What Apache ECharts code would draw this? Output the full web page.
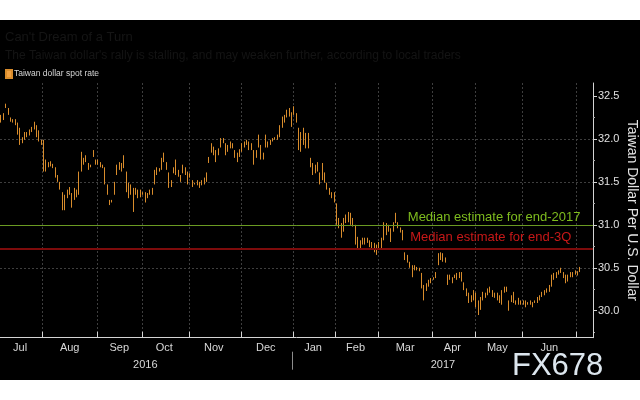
<!DOCTYPE html>
<html>
<head>
<meta charset="utf-8">
<script src="https://cdn.jsdelivr.net/npm/echarts@6/dist/echarts.min.js"></script>
<style>
  html, body { margin: 0; padding: 0; background: #ffffff; width: 640px; height: 400px; overflow: hidden; }
  #chart { position: absolute; left: 0; top: 20px; width: 640px; height: 360px; background: #000000; }
</style>
</head>
<body>
<div id="chart"></div>
<script>
// ---- data ----
const seriesName = 'Taiwan dollar spot rate';
const monthNames = ['Jul','Aug','Sep','Oct','Nov','Dec','Jan','Feb','Mar','Apr','May','Jun','Jul'];
const monthDays  = [18, 23, 19, 20, 22, 22, 18, 18, 23, 18, 20, 23, 2];
const yearNames = ['2016', '2017'];
const yTicks = [30.0, 30.5, 31.0, 31.5, 32.0, 32.5];
const medianEnd2017 = 31.0;
const medianEnd3Q = 30.72;
const medianLabels = ['Median estimate for end-2017', 'Median estimate for end-3Q'];

// daily low / high (trading days)
const lows = [
 32.19,32.22,32.36,32.28,32.20,32.19,32.16,32.05,31.93,31.95,31.99,32.02,32.04,32.08,32.11,32.02,31.97,31.93,
 31.62,31.62,31.67,31.68,31.66,31.55,31.50,31.41,31.17,31.17,31.31,31.35,31.20,31.29,31.32,31.35,31.62,31.70,31.73,31.64,31.67,31.79,31.70,
 31.70,31.67,31.66,31.47,31.35,31.23,31.26,31.35,31.58,31.64,31.62,31.66,31.38,31.31,31.35,31.15,31.35,31.31,31.32,
 31.35,31.26,31.31,31.35,31.35,31.47,31.58,31.62,31.64,31.73,31.64,31.43,31.44,31.60,31.58,31.56,31.50,31.60,31.58,31.47,
 31.55,31.44,31.47,31.46,31.43,31.46,31.47,31.50,31.72,31.84,31.81,31.73,31.81,31.90,31.95,31.81,31.85,31.89,31.89,31.78,31.73,31.79,
 31.85,31.90,31.93,31.87,31.87,31.70,31.78,31.90,31.76,31.76,31.90,31.90,31.93,31.97,31.99,31.99,32.02,32.13,32.19,32.25,32.26,32.14,
 32.28,32.19,31.87,31.85,31.93,31.89,31.89,31.67,31.58,31.60,31.62,31.47,31.52,31.49,31.41,31.35,31.31,31.26,
 31.00,30.96,30.85,30.92,31.02,31.03,31.00,30.98,30.77,30.71,30.73,30.77,30.77,30.79,30.74,30.71,30.68,30.65,
 30.71,30.73,30.82,30.88,30.92,30.80,30.92,31.02,30.96,30.91,30.82,30.59,30.56,30.50,30.39,30.47,30.47,30.46,30.26,30.12,30.23,30.28,30.32,
 30.36,30.38,30.53,30.59,30.57,30.56,30.30,30.36,30.32,30.38,30.36,30.38,30.34,30.24,30.17,30.09,30.10,30.12,
 30.04,29.95,30.01,30.12,30.15,30.18,30.21,30.16,30.15,30.12,30.09,30.07,30.21,30.22,30.00,30.10,30.09,30.07,30.07,30.07,
 30.07,30.04,30.07,30.07,30.04,30.09,30.09,30.12,30.16,30.18,30.21,30.22,30.28,30.36,30.38,30.42,30.44,30.38,30.32,30.34,30.39,30.39,30.42,
 30.41,30.45
];
const highs = [
 32.28,32.30,32.41,32.36,32.25,32.23,32.23,32.19,32.13,32.02,32.08,32.08,32.11,32.14,32.20,32.16,32.10,31.99,
 31.99,31.76,31.73,31.74,31.71,31.67,31.58,31.50,31.38,31.35,31.41,31.44,31.37,31.43,31.41,31.62,31.85,31.78,31.81,31.72,31.70,31.87,31.76,
 31.76,31.73,31.70,31.67,31.47,31.29,31.29,31.50,31.70,31.73,31.72,31.81,31.62,31.49,31.47,31.43,31.43,31.41,31.41,
 31.38,31.38,31.37,31.41,31.43,31.64,31.67,31.66,31.78,31.84,31.73,31.61,31.52,31.67,31.76,31.64,31.58,31.70,31.67,31.62,
 31.60,31.52,31.49,31.52,31.50,31.52,31.55,31.61,31.79,31.95,31.91,31.87,31.89,32.01,32.01,31.95,31.93,31.97,31.95,31.87,31.84,31.88,
 31.95,31.97,31.99,31.97,31.95,31.87,31.87,32.05,31.93,31.84,32.05,31.97,31.99,32.01,32.02,32.05,32.16,32.26,32.28,32.34,32.36,32.31,
 32.38,32.30,32.13,32.08,32.13,32.07,32.07,31.78,31.72,31.70,31.73,31.61,31.72,31.61,31.49,31.43,31.38,31.38,
 31.25,31.08,31.02,31.08,31.12,31.15,31.14,31.08,31.00,30.86,30.82,30.85,30.85,30.85,30.82,30.80,30.79,30.77,
 30.80,30.85,31.03,31.02,31.00,30.96,31.03,31.14,31.03,30.97,30.94,30.68,30.65,30.57,30.53,30.53,30.51,30.50,30.44,30.30,30.32,30.36,30.38,
 30.39,30.45,30.67,30.68,30.67,30.62,30.42,30.42,30.39,30.42,30.44,30.45,30.45,30.33,30.26,30.21,30.18,30.24,
 30.21,30.12,30.16,30.22,30.21,30.26,30.28,30.24,30.21,30.21,30.18,30.24,30.28,30.28,30.12,30.18,30.22,30.12,30.15,30.12,
 30.12,30.12,30.10,30.12,30.10,30.12,30.16,30.18,30.22,30.24,30.26,30.30,30.42,30.44,30.45,30.47,30.50,30.45,30.42,30.42,30.45,30.45,30.47,
 30.46,30.51
];
const padDays = 5;

// ---- build categories ----
const cats = [];
const monthStart = [];
const monthLabelIdx = {};
monthNames.forEach(function (m, k) {
  monthStart.push(cats.length);
  if (k < 12) monthLabelIdx[cats.length + Math.floor((monthDays[k] - 1) / 2)] = true;
  for (let d = 0; d < monthDays[k]; d++) cats.push(m);
});
for (let p = 0; p < padDays; p++) cats.push('');
const janIdx = monthStart[6];
const yearLabelIdx = {};
yearLabelIdx[Math.floor((janIdx - 1) / 2)] = yearNames[0];
yearLabelIdx[Math.floor((janIdx + cats.length - 1) / 2)] = yearNames[1];
const startSet = {};
monthStart.forEach(function (s) { if (s > 0) startSet[s] = true; });

const ohlc = lows.map(function (l, i) { return [l, highs[i], l, highs[i]]; });

const FONT = 'Liberation Sans';
const barColor = '#d88c2c';

const chart = echarts.init(document.getElementById('chart'), null, { renderer: 'canvas' });
chart.setOption({
  backgroundColor: '#000000',
  animation: false,
  textStyle: { fontFamily: FONT },
  title: {
    left: 0, top: 6,
    text: 'Can\'t Dream of a Turn',
    subtext: 'The Taiwan dollar\'s rally is stalling, and may weaken further, according to local traders',
    itemGap: 6,
    textStyle: { color: '#151515', fontSize: 13, fontWeight: 'normal', fontFamily: FONT },
    subtextStyle: { color: '#141414', fontSize: 12, fontFamily: FONT }
  },
  legend: {
    left: 0, top: 44,
    itemWidth: 6, itemHeight: 8, itemGap: 8,
    icon: 'rect',
    textStyle: { color: '#d6d6d6', fontSize: 8.5, fontFamily: FONT, padding: [0, 0, 0, -3] },
    data: [{ name: seriesName, itemStyle: { color: '#f0a040' } }]
  },
  grid: { left: 0, right: 47, top: 63, bottom: 42.3, containLabel: false, outerBoundsMode: 'none' },
  xAxis: [{
    type: 'category',
    data: cats,
    boundaryGap: true,
    axisLine: { show: true, lineStyle: { color: '#d4d4d4', width: 1 } },
    axisTick: { show: true, inside: true, length: 6, interval: function (i) { return !!startSet[i]; }, lineStyle: { color: '#d4d4d4' } },
    splitLine: { show: true, interval: function (i) { return !!startSet[i]; }, lineStyle: { color: '#3e3e3e', type: [2, 2], width: 1 } },
    axisLabel: { interval: function (i) { return !!monthLabelIdx[i]; }, color: '#d8d8d8', fontSize: 11, margin: 5, fontFamily: FONT }
  }, {
    type: 'category',
    data: cats,
    position: 'bottom',
    offset: 14,
    boundaryGap: true,
    axisLine: { show: false },
    axisTick: { show: true, alignWithLabel: true, length: 18, interval: function (i) { return i === janIdx - 1; }, lineStyle: { color: '#8c8c8c' } },
    splitLine: { show: false },
    axisLabel: {
      interval: function (i) { return yearLabelIdx[i] !== undefined; },
      formatter: function (v, i) { return yearLabelIdx[i] || ''; },
      color: '#d8d8d8', fontSize: 11, margin: 8, fontFamily: FONT
    }
  }],
  yAxis: {
    type: 'value',
    position: 'right',
    min: 29.686,
    max: 32.651,
    scale: true,
    name: 'Taiwan Dollar Per U.S. Dollar',
    nameLocation: 'middle',
    nameRotate: -90,
    nameGap: 32,
    nameMoveOverlap: false,
    nameTextStyle: { color: '#e4e4e4', fontSize: 14, fontFamily: FONT },
    axisLine: { show: true, lineStyle: { color: '#d4d4d4', width: 1 } },
    axisTick: { show: true, length: 4, customValues: yTicks, lineStyle: { color: '#d4d4d4' } },
    minorTick: { show: true, splitNumber: 2, length: 2, lineStyle: { color: '#aaaaaa' } },
    axisLabel: {
      customValues: yTicks,
      formatter: function (v) { return v.toFixed(1); },
      color: '#e0e0e0', fontSize: 11, margin: 5, fontFamily: FONT
    },
    splitLine: { show: true, showMinLine: false, showMaxLine: false, lineStyle: { color: '#3e3e3e', type: [2, 2], width: 1 } }
  },
  series: [{
    name: seriesName,
    type: 'candlestick',
    xAxisIndex: 0,
    data: ohlc,
    barWidth: 1,
    itemStyle: { color: barColor, color0: barColor, borderColor: barColor, borderColor0: barColor, borderWidth: 1 },
    markLine: {
      silent: true,
      symbol: 'none',
      animation: false,
      label: { show: false },
      data: [
        { yAxis: medianEnd2017, lineStyle: { color: '#6a9a22', width: 1, type: 'solid' } },
        { yAxis: medianEnd3Q, lineStyle: { color: '#7d0b0b', width: 2, type: 'solid' } }
      ]
    },
    markPoint: {
      silent: true,
      symbol: 'circle',
      symbolSize: 0,
      itemStyle: { color: 'rgba(0,0,0,0)' },
      data: [
        { coord: [170, medianEnd2017], label: { show: true, position: 'right', distance: 5, offset: [0, -7], formatter: medianLabels[0], color: '#7ebc1e', fontSize: 13, fontFamily: FONT } },
        { coord: [171, medianEnd3Q], label: { show: true, position: 'right', distance: 5, offset: [0, -11], formatter: medianLabels[1], color: '#c81818', fontSize: 13, fontFamily: FONT } }
      ]
    }
  }],
  graphic: [{
    type: 'text',
    left: 512,
    top: 331,
    silent: true,
    style: { text: 'FX678', fill: '#dce6ee', font: '31px "Liberation Sans"' , textAlign: 'left' }
  }]
});
</script>
</body>
</html>
